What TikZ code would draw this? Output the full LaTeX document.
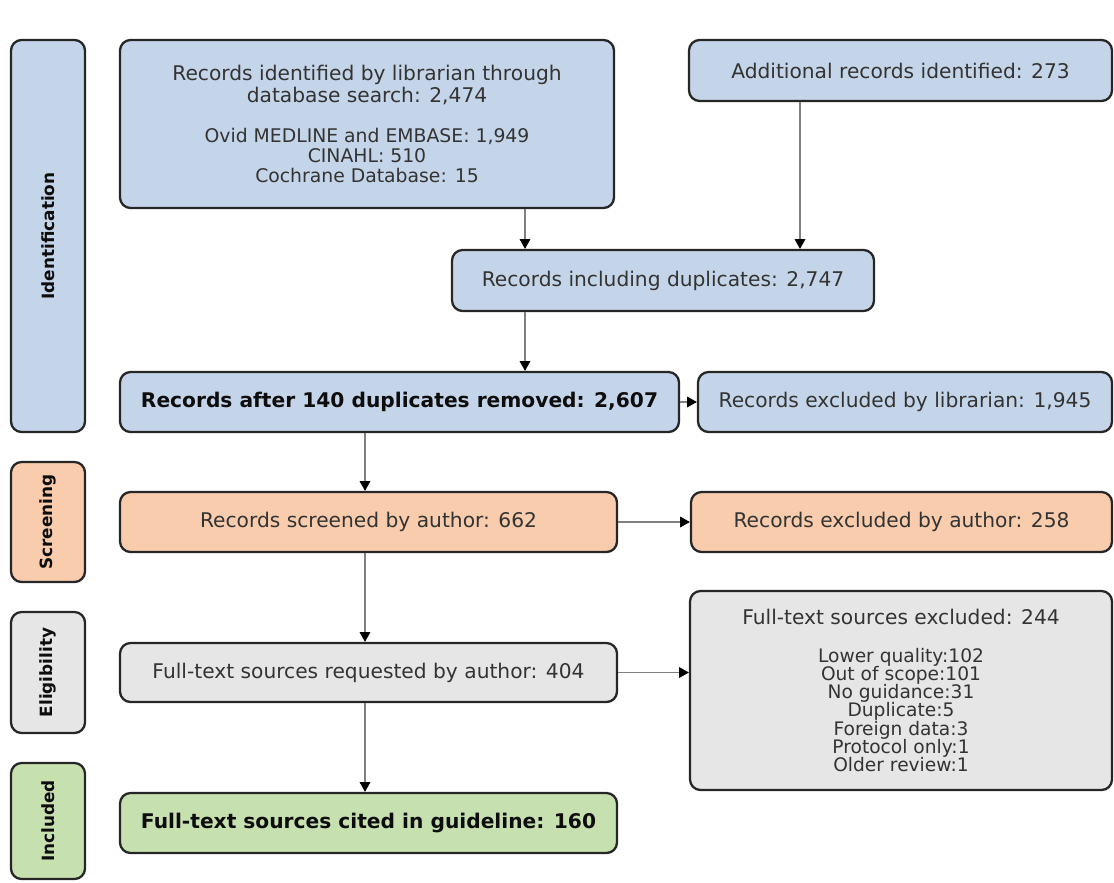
\documentclass[tikz,border=0pt]{standalone}
\usepackage{fontspec}
\setmainfont{DejaVu Sans}
\usetikzlibrary{arrows.meta}
\definecolor{idblue}{RGB}{197,213,233}
\definecolor{scorange}{RGB}{248,204,172}
\definecolor{elgray}{RGB}{230,230,230}
\definecolor{incgreen}{RGB}{198,224,176}
\newcommand{\subtxt}{\fontsize{10.7}{11.4}\selectfont}
\newcommand{\listtxt}{\fontsize{10.6}{10.4}\selectfont}

\begin{document}
\begin{tikzpicture}[x=0.02cm,y=-0.02cm,
  stagebox/.style={draw=black!85,line width=1.3pt,rounded corners=6pt,inner sep=0pt,align=center,
    text=black!80,font=\fontsize{11.5}{12.5}\selectfont},
  sz/.style 2 args={minimum width=#1*0.02cm,minimum height=#2*0.02cm},
  boldbox/.style={stagebox,text=black!95,font=\bfseries\fontsize{11.5}{12.5}\selectfont},
  phase/.style={stagebox,rotate=90,text=black!95,font=\bfseries\fontsize{9.6}{11}\selectfont},
  flow/.style={draw=black!50,line width=0.6pt,-{Triangle[length=5.5pt,width=6pt,color=black]}}]
  \useasboundingbox (0,0) rectangle (1114,882);

  \foreach \nm/\y/\h/\col/\txt in {idn/236/392/idblue/Identification,
      scr/522/120/scorange/Screening, elg/672.5/121/elgray/Eligibility,
      inc/821/116/incgreen/Included}
    \node[phase,fill=\col,sz={\h}{74}] (\nm) at (48,\y) {\txt};

  \node[stagebox,fill=idblue,sz={494}{168}] (lib) at (367,124)
    {Records identified by librarian through\\database search: 2,474\\[10pt]
     \subtxt Ovid MEDLINE and EMBASE: 1,949\\[-1.1pt] \subtxt CINAHL: 510\\[-1.1pt] \subtxt Cochrane Database: 15};
  \node[stagebox,fill=idblue,sz={423}{61}] (add) at (900.5,70.5) {Additional records identified: 273};
  \node[stagebox,fill=idblue,sz={422}{61}] (dup) at (663,280.5) {Records including duplicates: 2,747};
  \node[boldbox,fill=idblue,sz={559}{60}] (rem) at (399.5,402) {Records after 140 duplicates removed: 2,607};
  \node[stagebox,fill=idblue,sz={414}{60}] (exlib) at (905,402) {Records excluded by librarian: 1,945};
  \node[stagebox,fill=scorange,sz={497}{60}] (scrd) at (368.5,522) {Records screened by author: 662};
  \node[stagebox,fill=scorange,sz={421}{60}] (exaut) at (901.5,522) {Records excluded by author: 258};
  \node[stagebox,fill=elgray,sz={497}{59}] (req) at (368.5,672.5) {Full-text sources requested by author: 404};
  \node[stagebox,fill=elgray,sz={422}{199}] (exfull) at (901,690.5)
    {Full-text sources excluded: 244\\[9pt]
     \listtxt Lower quality:102\\[-2.1pt] \listtxt Out of scope:101\\[-2.1pt] \listtxt No guidance:31\\[-2.1pt]
     \listtxt Duplicate:5\\[-2.1pt] \listtxt Foreign data:3\\[-2.1pt] \listtxt Protocol only:1\\[-2.1pt]
     \listtxt Older review:1};
  \node[boldbox,fill=incgreen,sz={497}{60}] (cited) at (368.5,823) {Full-text sources cited in guideline: 160};

  \coordinate (colA) at (525,0);
  \coordinate (colB) at (800,0);
  \coordinate (colM) at (365,0);
  \draw[flow] (lib.south -| colA) -- (dup.north -| colA);
  \draw[flow] (add.south -| colB) -- (dup.north -| colB);
  \draw[flow] (dup.south -| colA) -- (rem.north -| colA);
  \draw[flow] (rem) -- (exlib);
  \draw[flow] (rem.south -| colM) -- (scrd.north -| colM);
  \draw[flow] (scrd) -- (exaut);
  \draw[flow] (scrd.south -| colM) -- (req.north -| colM);
  \draw[flow] (req.east) -- (req.east -| exfull.west);
  \draw[flow] (req.south -| colM) -- (cited.north -| colM);
\end{tikzpicture}
\end{document}
